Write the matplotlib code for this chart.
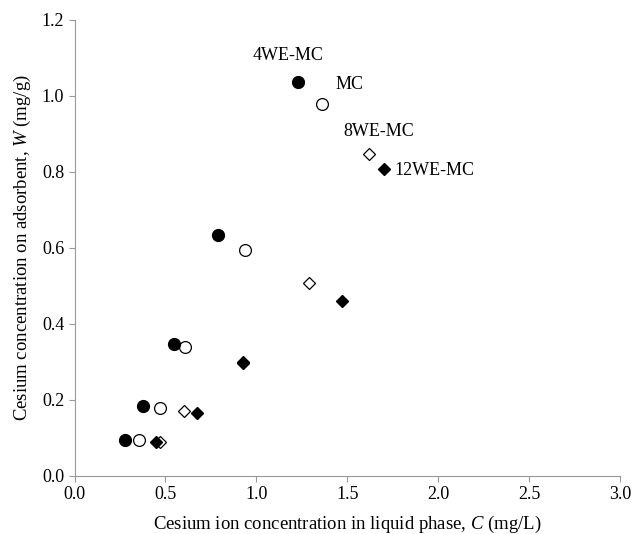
import numpy as np
from matplotlib import pyplot as plt

plt.rcParams['font.family'] = 'Liberation Serif'
plt.rcParams['mathtext.fontset'] = 'custom'
plt.rcParams['mathtext.rm'] = 'Liberation Serif'
plt.rcParams['mathtext.it'] = 'Liberation Serif:italic'

# data
c_4we = [0.279, 0.379, 0.548, 0.789, 1.228]
w_4we = [0.094, 0.184, 0.346, 0.633, 1.037]
c_mc = [0.357, 0.468, 0.608, 0.938, 1.359]
w_mc = [0.093, 0.178, 0.338, 0.593, 0.979]
c_8we = [0.470, 0.600, 0.925, 1.288, 1.618]
w_8we = [0.088, 0.171, 0.300, 0.507, 0.848]
c_12we = [0.450, 0.671, 0.929, 1.469, 1.700]
w_12we = [0.088, 0.164, 0.298, 0.461, 0.807]

labels = ['4WE-MC', 'MC', '8WE-MC', '12WE-MC']
label_pos = [(1.177, 1.106), (1.511, 1.029), (1.674, 0.905), (1.979, 0.804)]

fig = plt.figure(figsize=(6.32, 5.34), dpi=100)
ax = fig.add_axes([0.118, 0.109, 0.863, 0.854])

ax.plot(c_8we, w_8we, 'D', mfc='white', mec='black', ms=6.5, mew=0.9, ls='none')
ax.plot(c_12we, w_12we, 'D', mfc='black', mec='black', ms=6.5, ls='none')
ax.plot(c_mc, w_mc, 'o', mfc='white', mec='black', ms=8.5, mew=0.9, ls='none')
ax.plot(c_4we, w_4we, 'o', mfc='black', mec='black', ms=8.5, ls='none')

for lab, (x, y) in zip(labels, label_pos):
    ax.text(x, y, lab, fontsize=13, ha='center', va='center')

ax.set_xlim(0, 3.0)
ax.set_ylim(0, 1.2)
ax.set_xticks(np.arange(0, 3.01, 0.5))
ax.set_yticks(np.arange(0, 1.21, 0.2))
ax.xaxis.set_major_formatter(plt.FormatStrFormatter('%.1f'))
ax.yaxis.set_major_formatter(plt.FormatStrFormatter('%.1f'))

for s in ['top', 'right']:
    ax.spines[s].set_visible(False)
for s in ['left', 'bottom']:
    ax.spines[s].set_color('#999999')
ax.tick_params(colors='#999999', labelcolor='black', labelsize=13, length=4, direction='out')

ax.set_xlabel('Cesium ion concentration in liquid phase, $\\it{C}$ (mg/L)', fontsize=13.5, labelpad=8)
ax.set_ylabel('Cesium concentration on adsorbent, $\\it{W}$ (mg/g)', fontsize=13.5, labelpad=6)

fig.savefig('out.png')
